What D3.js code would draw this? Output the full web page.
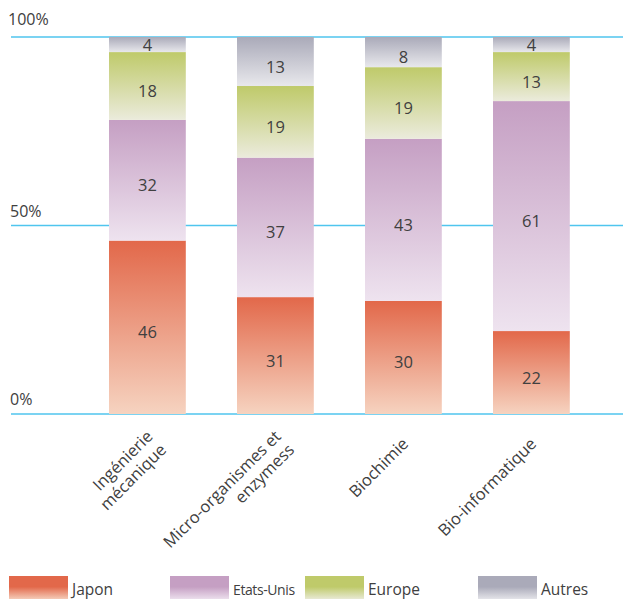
<!DOCTYPE html>
<html><head><meta charset="utf-8">
<script src="https://cdn.jsdelivr.net/npm/d3@7"></script>
<style>body{margin:0;background:#fff}svg{display:block}text{font-family:"Open Sans",sans-serif;fill:#404040}</style>
</head><body>
<script>
const categories = [["Ingénierie","mécanique"],["Micro-organismes et","enzymess"],["Biochimie"],["Bio-informatique"]];
const series = ["Japon","Etats-Unis","Europe","Autres"];
const japon = [46,31,30,22];
const etatsUnis = [32,37,43,61];
const europe = [18,19,19,13];
const autres = [4,13,8,4];
const yTicks = [0,50,100];
const tickLabels = ["0%","50%","100%"];
const colorTop = ["#e2684a","#c59fc3","#bfca6a","#aaaab9"];
const colorBottom = ["#f6d3c0","#eee3ef","#ebebdc","#e8e8ec"];

const W=623,H=599;
const svg=d3.select("body").append("svg").attr("width",W).attr("height",H);
const defs=svg.append("defs");
series.forEach((s,i)=>{
  const g=defs.append("linearGradient").attr("id","g"+i).attr("x1",0).attr("y1",0).attr("x2",0).attr("y2",1);
  g.append("stop").attr("offset","0%").attr("stop-color",colorTop[i]);
  g.append("stop").attr("offset","100%").attr("stop-color",colorBottom[i]);
  const l=defs.append("linearGradient").attr("id","l"+i).attr("x1",0).attr("y1",0).attr("x2",0).attr("y2",1);
  l.append("stop").attr("offset","0%").attr("stop-color",colorTop[i]);
  l.append("stop").attr("offset","45%").attr("stop-color",colorTop[i]);
  l.append("stop").attr("offset","100%").attr("stop-color",colorBottom[i]);
});

const keys=categories.map(c=>c.join(" "));
const rows=keys.map((k,i)=>({key:k,Japon:japon[i],"Etats-Unis":etatsUnis[i],Europe:europe[i],Autres:autres[i]}));
const x=d3.scaleBand().domain(keys).range([83.4,595.4]).paddingInner(0.4).paddingOuter(0.2);
const y=d3.scaleLinear().domain([0,100]).range([414,37]);
const stack=d3.stack().keys(series)(rows);

// gridlines
svg.append("g").selectAll("line").data(yTicks).join("line")
  .attr("x1",11).attr("x2",W).attr("y1",d=>y(d)).attr("y2",d=>y(d))
  .attr("stroke","#4fc5ee").attr("stroke-width",1.6);
svg.append("g").selectAll("text").data(yTicks).join("text")
  .attr("x",(d,i)=>i==2?8:10).attr("y",d=>y(d)-(d==100?12:9)).attr("font-size",16).text((d,i)=>tickLabels[i]);

const layer=svg.append("g").selectAll("g").data(stack).join("g");
layer.selectAll("rect").data((d,i)=>d.map(v=>({v,i}))).join("rect")
  .attr("x",d=>x(d.v.data.key)).attr("width",x.bandwidth())
  .attr("y",d=>y(d.v[1])).attr("height",d=>y(d.v[0])-y(d.v[1]))
  .attr("fill",d=>`url(#g${d.i})`);
layer.selectAll("text").data(d=>d).join("text")
  .attr("x",d=>x(d.data.key)+x.bandwidth()/2)
  .attr("y",d=>{const h=y(d[0])-y(d[1]);const c=(y(d[0])+y(d[1]))/2;return c+(h<20?0.5:5)+6;})
  .attr("text-anchor","middle").attr("font-size",16.5).text(d=>d[1]-d[0]);

// category labels
const cl=svg.append("g").selectAll("g").data(categories).join("g")
  .attr("transform",(d,i)=>`translate(${x(keys[i])+x.bandwidth()/2+(d.length>1?10:6)},${d.length>1?441:445}) rotate(-45)`);
cl.selectAll("text").data(d=>d.map((t,j)=>({t,j,n:d.length}))).join("text")
  .attr("text-anchor","end").attr("font-size",16.5)
  .attr("y",d=>d.n>1?(d.j==0?-5:14):0).text(d=>d.t);

// legend
const lx=[9,170,305,478];
const lg=svg.append("g").selectAll("g").data(series).join("g").attr("transform",(d,i)=>`translate(${lx[i]},576)`);
lg.append("rect").attr("width",59).attr("height",24).attr("fill",(d,i)=>`url(#l${i})`);
lg.append("text").attr("x",63).attr("y",19).attr("font-size",(d,i)=>i==1?14:15.5)
  .attr("letter-spacing",(d,i)=>i==1?-0.4:0).text(d=>d);
</script>
</body></html>
